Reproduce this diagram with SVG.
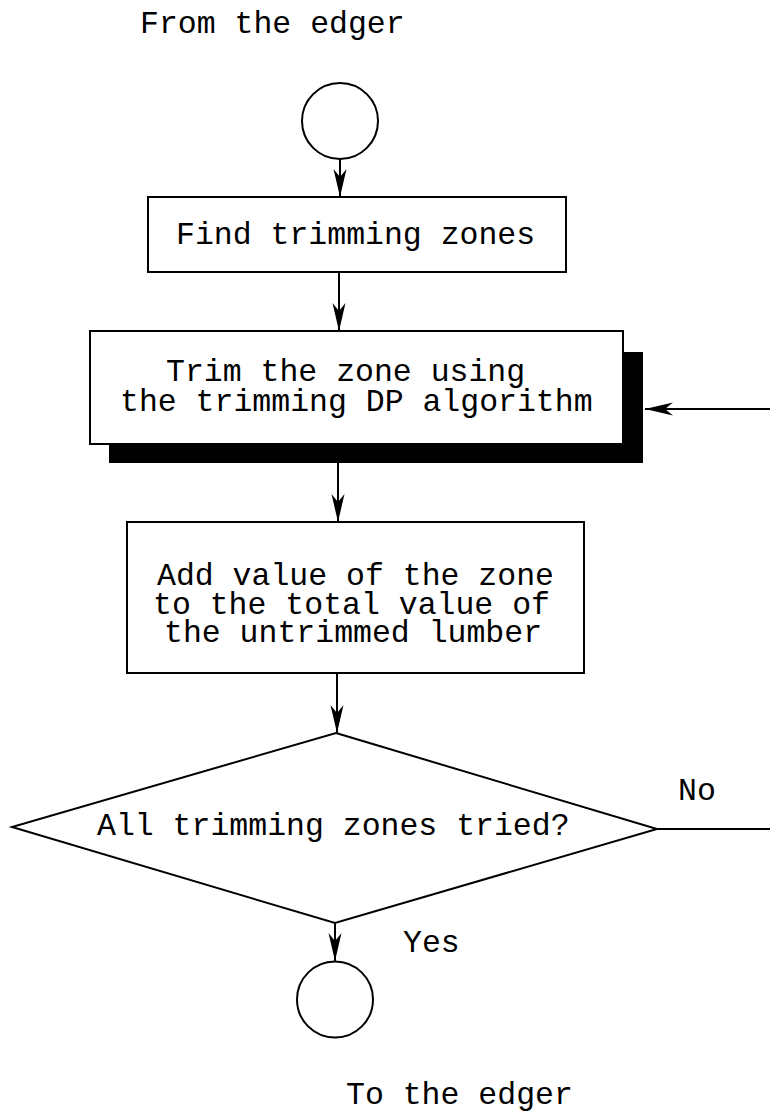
<svg xmlns="http://www.w3.org/2000/svg" width="770" height="1112" viewBox="0 0 770 1112">
<defs>
<style>
.ln{fill:none;stroke:#000;stroke-width:2}
.bx{fill:#fff;stroke:#000;stroke-width:2}
.tx{font-family:"Liberation Mono","Courier New",monospace;font-size:31.5px;fill:#000}
</style>
<marker id="ah" markerUnits="userSpaceOnUse" markerWidth="32" markerHeight="16" viewBox="-30 -8 32 16" refX="0" refY="0" orient="auto">
<path d="M0,0 L-28,-6.5 L-20,0 L-28,6.5 Z" fill="#000"/>
</marker>
</defs>
<rect width="770" height="1112" fill="#fff"/>
<g id="connectors">
<line class="ln" x1="340" y1="159" x2="340" y2="197" marker-end="url(#ah)"/>
<line class="ln" x1="339" y1="272" x2="339" y2="331" marker-end="url(#ah)"/>
<line class="ln" x1="338" y1="444" x2="338" y2="522" marker-end="url(#ah)"/>
<line class="ln" x1="337" y1="673" x2="337" y2="733" marker-end="url(#ah)"/>
<line class="ln" x1="335" y1="923" x2="335" y2="961" marker-end="url(#ah)"/>
<line class="ln" x1="657" y1="829" x2="770" y2="829"/>
<line class="ln" x1="770" y1="409" x2="645" y2="409" marker-end="url(#ah)"/>
</g>
<g id="label-from">
<text class="tx" x="140" y="33">From the edger</text>
</g>
<g id="start">
<circle class="bx" cx="340" cy="121" r="38"/>
</g>
<g id="find-zones">
<rect class="bx" x="148" y="197" width="418" height="75"/>
<text class="tx" x="176" y="244">Find trimming zones</text>
</g>
<g id="trim-zone">
<rect x="109" y="352" width="534" height="111" fill="#000"/>
<rect class="bx" x="90" y="331" width="533" height="113"/>
<text class="tx" x="166" y="381">Trim the zone using</text>
<text class="tx" x="120" y="411">the trimming DP algorithm</text>
</g>
<g id="add-value">
<rect class="bx" x="127" y="522" width="457" height="151"/>
<text class="tx" x="157" y="585">Add value of the zone</text>
<text class="tx" x="153" y="614">to the total value of</text>
<text class="tx" x="164" y="642">the untrimmed lumber</text>
</g>
<g id="decision">
<polygon class="bx" points="336,733 657,829 335,923 12,827"/>
<text class="tx" x="97" y="835">All trimming zones tried?</text>
<text class="tx" x="678" y="800">No</text>
<text class="tx" x="403" y="952">Yes</text>
</g>
<g id="end">
<circle class="bx" cx="335" cy="999.5" r="38"/>
</g>
<g id="label-to">
<text class="tx" x="346" y="1104">To the edger</text>
</g>
</svg>
